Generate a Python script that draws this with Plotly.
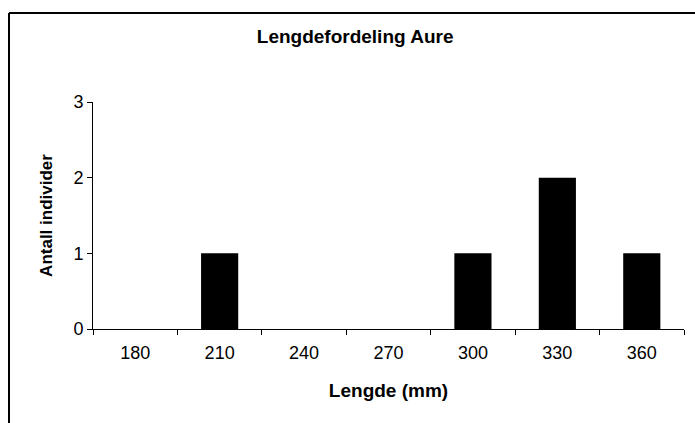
import plotly.graph_objects as go

# Length classes (mm) and number of fish in each class
lengths = ["180", "210", "240", "270", "300", "330", "360"]
counts = [0, 1, 0, 0, 1, 2, 1]

FONT = "Arial, Liberation Sans, sans-serif"

fig = go.Figure(
    go.Bar(
        x=lengths,
        y=counts,
        marker=dict(color="black", line=dict(width=0)),
    )
)

fig.update_layout(
    width=695,
    height=423,
    margin=dict(l=93, r=11, t=102, b=94),
    paper_bgcolor="white",
    plot_bgcolor="white",
    showlegend=False,
    bargap=0.56,
    font=dict(family=FONT, size=18, color="black"),
    title=dict(
        text="<b>Lengdefordeling Aure</b>",
        x=0.511,
        xanchor="center",
        y=1 - 36 / 423,
        yanchor="middle",
        font=dict(family=FONT, size=19, color="black"),
    ),
    xaxis=dict(
        type="category",
        range=[-0.5, 6.5],
        tickson="boundaries",
        ticks="outside",
        ticklen=5,
        tickcolor="black",
        ticklabelstandoff=7,
        showline=True,
        linecolor="black",
        linewidth=1,
        showgrid=False,
        zeroline=False,
        tickfont=dict(family=FONT, size=18, color="black"),
        title=dict(text="<b>Lengde (mm)</b>", standoff=22,
                   font=dict(family=FONT, size=19, color="black")),
    ),
    yaxis=dict(
        range=[0, 3],
        dtick=1,
        ticks="outside",
        ticklen=5,
        tickcolor="black",
        showline=True,
        linecolor="black",
        linewidth=1,
        showgrid=False,
        zeroline=False,
        tickfont=dict(family=FONT, size=18, color="black"),
        title=dict(text="<b>Antall individer</b>", standoff=16,
                   font=dict(family=FONT, size=17, color="black")),
    ),
    # Frame around the chart area (open at the right and bottom edges)
    shapes=[
        dict(type="line", xref="paper", yref="paper",
             x0=(9 - 93) / 591, x1=(700 - 93) / 591,
             y0=(329 - 13) / 227, y1=(329 - 13) / 227,
             line=dict(color="black", width=2)),
        dict(type="line", xref="paper", yref="paper",
             x0=(9 - 93) / 591, x1=(9 - 93) / 591,
             y0=(329 - 13) / 227, y1=(329 - 430) / 227,
             line=dict(color="black", width=2)),
    ],
)

fig.write_html("out.html")
